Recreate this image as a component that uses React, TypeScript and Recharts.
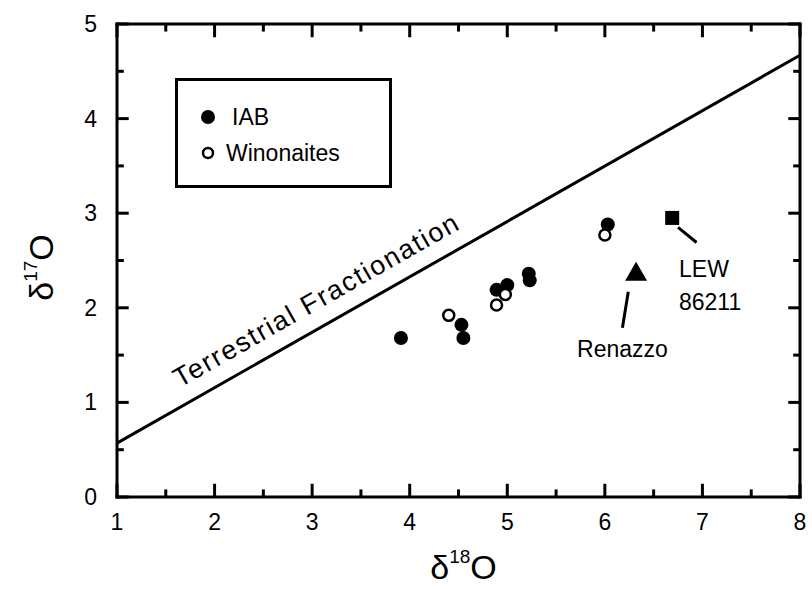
import {
  ScatterChart,
  Scatter,
  XAxis,
  YAxis,
  ReferenceLine,
  ReferenceDot,
  Legend,
  Label,
} from "recharts";

const FONT = '"Liberation Sans", Arial, Helvetica, sans-serif';

const xMajor = [1, 2, 3, 4, 5, 6, 7, 8];
const xMinor = [1.5, 2.5, 3.5, 4.5, 5.5, 6.5, 7.5];
const yMajor = [0, 1, 2, 3, 4, 5];
const yMinor = [0.5, 1.5, 2.5, 3.5, 4.5];

// IAB irons (filled circles)
const iabX = [3.91, 4.53, 4.55, 4.89, 5.0, 5.22, 5.23, 6.03];
const iabY = [1.68, 1.82, 1.68, 2.19, 2.24, 2.36, 2.29, 2.88];

// winonaites (open circles)
const winX = [4.4, 4.89, 4.98, 6.0];
const winY = [1.92, 2.03, 2.14, 2.77];

const renazzo = [{ x: 6.32, y: 2.37 }];
const lew = [{ x: 6.69, y: 2.95 }];

// terrestrial fractionation line end points
const tfl = [
  { x: 1, y: 0.57 },
  { x: 8, y: 4.67 },
];

const legendItems = [
  { name: "IAB", filled: true },
  { name: "Winonaites", filled: false },
];

const iab = iabX.map((x, i) => ({ x, y: iabY[i] }));
const win = winX.map((x, i) => ({ x, y: winY[i] }));

// inward tick lengths, in axis units
const X_TICK = { major: 0.14, minor: 0.08 }; // vertical ticks on bottom/top
const Y_TICK = { major: 0.12, minor: 0.07 }; // horizontal ticks on left/right

const tickSegs = [
  ...xMajor.map((v) => [{ x: v, y: 0 }, { x: v, y: X_TICK.major }]),
  ...xMinor.map((v) => [{ x: v, y: 0 }, { x: v, y: X_TICK.minor }]),
  ...xMajor.map((v) => [{ x: v, y: 5 }, { x: v, y: 5 - X_TICK.major }]),
  ...xMinor.map((v) => [{ x: v, y: 5 }, { x: v, y: 5 - X_TICK.minor }]),
  ...yMajor.map((v) => [{ x: 1, y: v }, { x: 1 + Y_TICK.major, y: v }]),
  ...yMinor.map((v) => [{ x: 1, y: v }, { x: 1 + Y_TICK.minor, y: v }]),
  ...yMajor.map((v) => [{ x: 8, y: v }, { x: 8 - Y_TICK.major, y: v }]),
  ...yMinor.map((v) => [{ x: 8, y: v }, { x: 8 - Y_TICK.minor, y: v }]),
];

const FilledDot = (p: any) => <circle cx={p.cx} cy={p.cy} r={7} fill="#000" />;
const OpenDot = (p: any) => (
  <circle cx={p.cx} cy={p.cy} r={5.5} fill="#fff" stroke="#000" strokeWidth={2.5} />
);
const Triangle = (p: any) => (
  <polygon
    points={`${p.cx},${p.cy - 11} ${p.cx + 11},${p.cy + 8} ${p.cx - 11},${p.cy + 8}`}
    fill="#000"
  />
);
const Square = (p: any) => (
  <rect x={p.cx - 7} y={p.cy - 7} width={14} height={14} fill="#000" />
);

const BottomLabel = (p: any) => (
  <text x={p.x} y={p.y + 33} textAnchor="middle" fontSize={23} fontFamily={FONT} fill="#000">
    {p.payload.value}
  </text>
);
const LeftLabel = (p: any) => (
  <text x={p.x - 20} y={p.y + 8} textAnchor="end" fontSize={23} fontFamily={FONT} fill="#000">
    {p.payload.value}
  </text>
);

const textAt =
  (lines: string[], anchor: string, rotate = 0, size = 23, spacing = 0) =>
  (p: any) => (
    <text
      x={p.cx}
      y={p.cy}
      textAnchor={anchor}
      fontSize={size}
      fontFamily={FONT}
      letterSpacing={spacing}
      fill="#000"
      transform={rotate ? `rotate(${rotate}, ${p.cx}, ${p.cy})` : undefined}
    >
      {lines.map((l, i) => (
        <tspan key={i} x={p.cx} dy={i === 0 ? 0 : 33}>
          {l}
        </tspan>
      ))}
    </text>
  );

const LegendBox = () => (
  <div
    style={{
      width: 217,
      height: 110,
      boxSizing: "border-box",
      border: "3px solid #000",
      background: "#fff",
      fontFamily: FONT,
      fontSize: 23,
      position: "relative",
    }}
  >
    {legendItems.map((it, i) => (
      <div
        key={it.name}
        style={{ position: "absolute", left: 18, top: 24 + i * 36, display: "flex", alignItems: "center" }}
      >
        <svg width={24} height={24}>
          {it.filled ? (
            <circle cx={12} cy={12} r={7} fill="#000" />
          ) : (
            <circle cx={12} cy={12} r={5} fill="#fff" stroke="#000" strokeWidth={2.5} />
          )}
        </svg>
        <span style={{ marginLeft: it.filled ? 12 : 6, lineHeight: "24px" }}>{it.name}</span>
      </div>
    ))}
  </div>
);

const axisLine = { stroke: "#000", strokeWidth: 3, strokeLinecap: "square" as const };

export default function App() {
  const xCommon = {
    type: "number" as const,
    dataKey: "x",
    domain: [1, 8],
    interval: 0 as const,
    height: 1,
    allowDataOverflow: true,
    tickLine: false,
    tickSize: 0,
    tickMargin: 0,
    axisLine,
  };
  const yCommon = {
    type: "number" as const,
    dataKey: "y",
    domain: [0, 5],
    interval: 0 as const,
    width: 1,
    allowDataOverflow: true,
    tickLine: false,
    tickSize: 0,
    tickMargin: 0,
    axisLine,
  };
  return (
    <div style={{ position: "absolute", left: 0, top: 0, background: "#fff" }}>
      <ScatterChart width={812} height={589} margin={{ top: 23, right: 11, bottom: 91, left: 116 }}>
        <XAxis {...xCommon} xAxisId={0} ticks={xMajor} tick={BottomLabel}>
          <Label
            content={(p: any) => {
              const vb = p.viewBox;
              const cx = vb.x + vb.width / 2 + 5;
              const cy = vb.y + 82;
              return (
                <text x={cx} y={cy} textAnchor="middle" fontFamily={FONT} fill="#000">
                  <tspan fontSize={34}>δ</tspan>
                  <tspan fontSize={19} dy={-16}>18</tspan>
                  <tspan fontSize={34} dy={16}>O</tspan>
                </text>
              );
            }}
          />
        </XAxis>
        <XAxis {...xCommon} xAxisId="top" orientation="top" ticks={xMajor} tick={false} />
        <YAxis {...yCommon} yAxisId={0} ticks={yMajor} tick={LeftLabel}>
          <Label
            content={(p: any) => {
              const vb = p.viewBox;
              const cx = vb.x - 63;
              const cy = vb.y + vb.height / 2 + 7;
              return (
                <text
                  x={cx}
                  y={cy}
                  textAnchor="middle"
                  fontFamily={FONT}
                  fill="#000"
                  transform={`rotate(-90, ${cx}, ${cy})`}
                >
                  <tspan fontSize={34}>δ</tspan>
                  <tspan fontSize={19} dy={-16}>17</tspan>
                  <tspan fontSize={34} dy={16}>O</tspan>
                </text>
              );
            }}
          />
        </YAxis>
        <YAxis {...yCommon} yAxisId="right" orientation="right" ticks={yMajor} tick={false} />
        <Legend
          layout="horizontal"
          verticalAlign="middle"
          align="center"
          wrapperStyle={{ left: 175, top: 78, width: 217, height: 110 }}
          content={() => <LegendBox />}
        />
        {tickSegs.map((seg, i) => (
          <ReferenceLine key={`t${i}`} segment={seg} stroke="#000" strokeWidth={3} ifOverflow="visible" />
        ))}
        <ReferenceLine segment={tfl} stroke="#000" strokeWidth={3} ifOverflow="visible" />
        <ReferenceDot
          x={3.09}
          y={2.0}
          r={0}
          ifOverflow="visible"
          shape={textAt(["Terrestrial Fractionation"], "middle", -29.6, 27, 1.7)}
        />
        <ReferenceLine
          segment={[
            { x: 6.18, y: 1.79 },
            { x: 6.24, y: 2.17 },
          ]}
          stroke="#000"
          strokeWidth={3}
        />
        <ReferenceDot x={6.18} y={1.48} r={0} shape={textAt(["Renazzo"], "middle")} />
        <ReferenceLine
          segment={[
            { x: 6.75, y: 2.85 },
            { x: 6.94, y: 2.69 },
          ]}
          stroke="#000"
          strokeWidth={3}
        />
        <ReferenceDot x={6.76} y={2.33} r={0} shape={textAt(["LEW", "86211"], "start")} />
        <Scatter name="IAB" data={iab} shape={FilledDot} isAnimationActive={false} />
        <Scatter name="Winonaites" data={win} shape={OpenDot} isAnimationActive={false} />
        <Scatter name="Renazzo" data={renazzo} shape={Triangle} isAnimationActive={false} />
        <Scatter name="LEW 86211" data={lew} shape={Square} isAnimationActive={false} />
      </ScatterChart>
    </div>
  );
}
